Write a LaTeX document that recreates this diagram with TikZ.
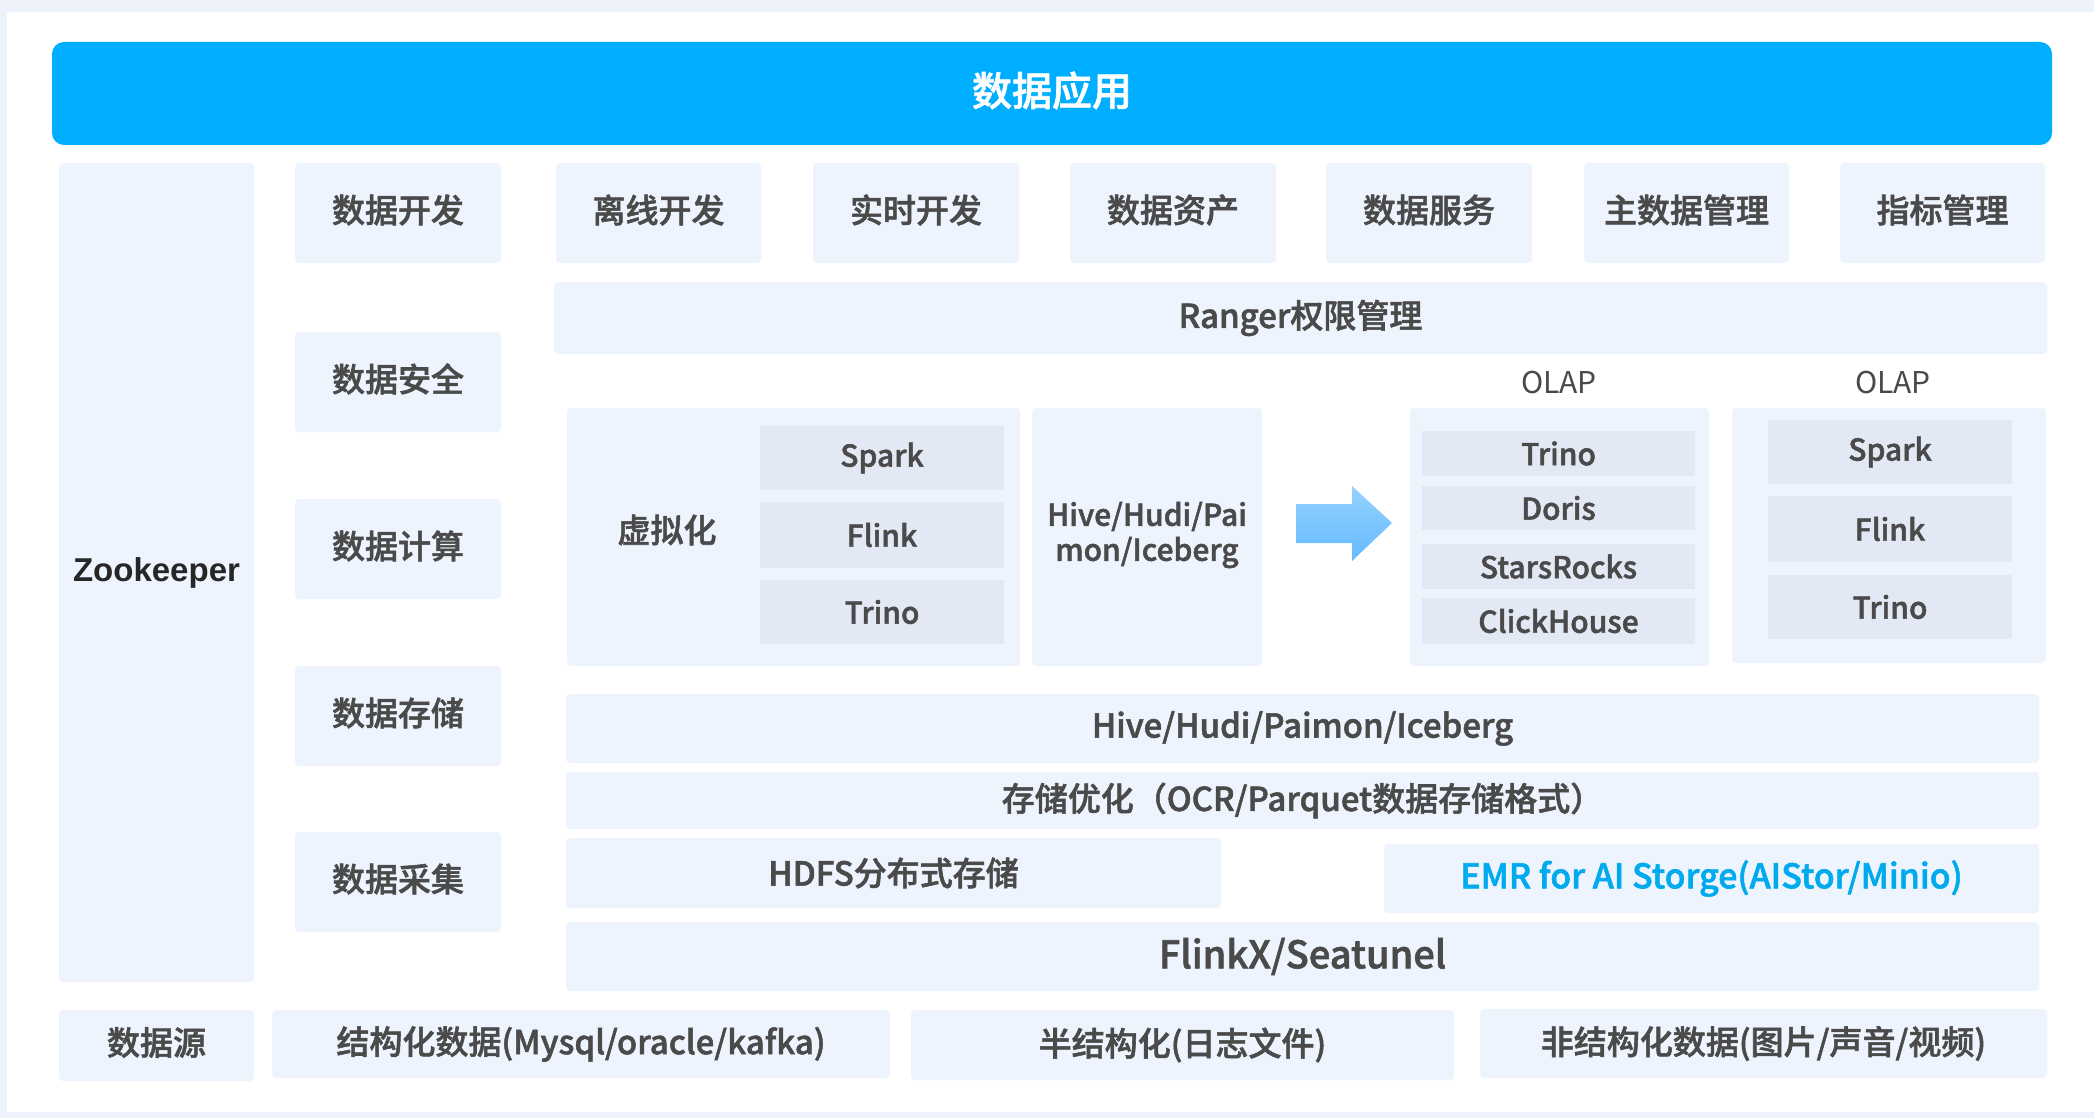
\documentclass[tikz,border=0pt]{standalone}
\usepackage{fontspec}
\setmainfont{Noto Sans CJK SC}[BoldFont={Noto Sans CJK SC Medium}, BoldFeatures={FakeBold=1.6}]
\newfontfamily\zkfont{Liberation Sans}
\definecolor{pagebg}{HTML}{EEF3FB}
\definecolor{boxbg}{HTML}{EEF4FE}
\definecolor{cellbg}{HTML}{E2E9F5}
\definecolor{barblue}{HTML}{00AEFF}
\definecolor{txt}{HTML}{4A4A4A}
\definecolor{emrblue}{HTML}{00AAEE}
\definecolor{arrowtop}{HTML}{94D2FF}
\definecolor{arrowbot}{HTML}{64BAFF}
\tikzset{
  box/.style={fill=boxbg, rounded corners=4pt},
  cell/.style={fill=cellbg},
  lbl/.style={text=txt, inner sep=0pt, font=\bfseries\fontsize{33}{38}\selectfont},
  cjk/.style={lbl, yshift=3pt},
  cellbl/.style={lbl, font=\bfseries\fontsize{30}{35}\selectfont},
  olap/.style={text=txt, inner sep=0pt, font=\fontsize{30}{34}\selectfont},
}
\begin{document}
\begin{tikzpicture}[x=1pt, y=-1pt]
  \useasboundingbox (0,0) rectangle (2094,1118);
  \fill[pagebg] (0,0) rectangle (2094,1118);
  \fill[white] (7,12) rectangle (2094,1112);

  % Top bar
  \fill[barblue, rounded corners=12pt] (52,42) rectangle (2052,145)
    node[midway, yshift=3pt, text=white, font=\bfseries\fontsize{40}{46}\selectfont] (app) {数据应用};

  % Zookeeper
  \fill[box] (59,163) rectangle (254,982)
    node[midway, text=black!85, font=\zkfont\bfseries\fontsize{33}{38}\selectfont] (zk) {Zookeeper};

  % Left column
  \fill[box] (295,163) rectangle (501,263) node[cjk, midway] (dev) {数据开发};
  \fill[box] (295,332) rectangle (501,432) node[cjk, midway] (sec) {数据安全};
  \fill[box] (295,499) rectangle (501,599) node[cjk, midway] (comp) {数据计算};
  \fill[box] (295,666) rectangle (501,766) node[cjk, midway] (store) {数据存储};
  \fill[box] (295,832) rectangle (501,932) node[cjk, midway] (coll) {数据采集};

  % Development row
  \fill[box] (556,163) rectangle (761,263) node[cjk, midway] (offline) {离线开发};
  \fill[box] (813,163) rectangle (1019,263) node[cjk, midway] (realtime) {实时开发};
  \fill[box] (1070,163) rectangle (1276,263) node[cjk, midway] (asset) {数据资产};
  \fill[box] (1326,163) rectangle (1532,263) node[cjk, midway] (service) {数据服务};
  \fill[box] (1584,163) rectangle (1789,263) node[cjk, midway] (mdm) {主数据管理};
  \fill[box] (1840,163) rectangle (2045,263) node[cjk, midway] (metric) {指标管理};

  % Security
  \fill[box] (554,282) rectangle (2047,354) node[lbl, midway] (ranger) {Ranger权限管理};

  % Virtualisation
  \fill[box] (567,408) rectangle (1020,666);
  \node[cjk] (virt) at (667,533) {虚拟化};
  \fill[cell] (760,426) rectangle (1004,490) node[cellbl, midway] (vspark) {Spark};
  \fill[cell] (760,502) rectangle (1004,568) node[cellbl, midway] (vflink) {Flink};
  \fill[cell] (760,580) rectangle (1004,644) node[cellbl, midway] (vtrino) {Trino};

  % Lake formats
  \fill[box] (1032,408) rectangle (1262,666);
  \node[cellbl, align=center] (lake) at (1147,535) {Hive/Hudi/Pai\\mon/Iceberg};

  % Arrow
  \shade[top color=arrowtop, bottom color=arrowbot]
    (1296,504) -- (1352,504) -- (1352,486) -- (1392,523) -- (1352,561) -- (1352,543) -- (1296,543) -- cycle;

  % OLAP engines
  \node[olap] (olapa) at (1559,383) {OLAP};
  \fill[box] (1410,408) rectangle (1709,666);
  \fill[cell] (1422,431) rectangle (1695,476) node[cellbl, midway] (otrino) {Trino};
  \fill[cell] (1422,486) rectangle (1695,530) node[cellbl, midway] (odoris) {Doris};
  \fill[cell] (1422,544) rectangle (1695,589) node[cellbl, midway] (osr) {StarsRocks};
  \fill[cell] (1422,598) rectangle (1695,644) node[cellbl, midway] (ock) {ClickHouse};

  \node[olap] (olapb) at (1893,383) {OLAP};
  \fill[box] (1732,408) rectangle (2046,663);
  \fill[cell] (1768,420) rectangle (2012,484) node[cellbl, midway] (pspark) {Spark};
  \fill[cell] (1768,496) rectangle (2012,562) node[cellbl, midway] (pflink) {Flink};
  \fill[cell] (1768,575) rectangle (2012,639) node[cellbl, midway] (ptrino) {Trino};

  % Storage layers
  \fill[box] (566,694) rectangle (2039,763) node[lbl, midway] (tables) {Hive/Hudi/Paimon/Iceberg};
  \fill[box] (566,772) rectangle (2039,829) node[lbl, midway] (optim) {存储优化（OCR/Parquet数据存储格式）};
  \fill[box] (566,838) rectangle (1221,908) node[lbl, midway] (hdfs) {HDFS分布式存储};
  \fill[box] (1384,844) rectangle (2039,913)
    node[lbl, midway, text=emrblue, font=\bfseries\fontsize{34}{39}\selectfont] (emr) {EMR for AI Storge(AIStor/Minio)};
  \fill[box] (566,922) rectangle (2039,991)
    node[lbl, midway, font=\bfseries\fontsize{38}{43}\selectfont] (flinkx) {FlinkX/Seatunel};

  % Data sources
  \fill[box] (59,1010) rectangle (254,1081) node[cjk, midway] (src) {数据源};
  \fill[box] (272,1010) rectangle (890,1078) node[lbl, midway] (struct) {结构化数据(Mysql/oracle/kafka)};
  \fill[box] (911,1010) rectangle (1454,1080) node[lbl, midway] (semi) {半结构化(日志文件)};
  \fill[box] (1480,1009) rectangle (2047,1078) node[lbl, midway] (unstruct) {非结构化数据(图片/声音/视频)};
\end{tikzpicture}
\end{document}
